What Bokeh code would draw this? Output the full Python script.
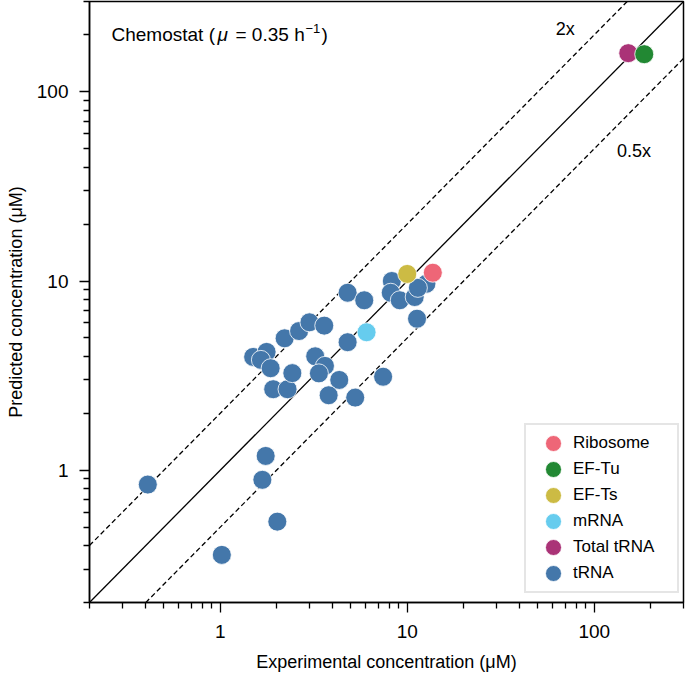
from bokeh.plotting import figure
from bokeh.models import (Range1d, FixedTicker, NumeralTickFormatter, Label,
                          Legend, LegendItem)
from bokeh.embed import file_html
from bokeh.resources import INLINE

# ---------------- data (experimental uM, predicted uM) ----------------
trna_x = [0.41, 1.75, 1.68, 2.02, 1.02, 1.50, 1.77, 1.65, 1.86, 1.92, 2.29,
          2.43, 2.21, 2.64, 3.00, 3.60, 3.22, 3.63, 3.37, 4.33, 3.80, 5.27,
          4.80, 4.80, 5.89, 7.43, 8.27, 8.16, 9.12, 10.96, 12.66, 11.28, 11.4]
trna_y = [0.84, 1.19, 0.89, 0.535, 0.357, 3.97, 4.22, 3.83, 3.46, 2.68, 2.68,
          3.26, 4.98, 5.44, 6.05, 5.81, 4.00, 3.56, 3.25, 3.00, 2.49, 2.42,
          4.75, 8.67, 7.91, 3.12, 10.0, 8.67, 7.91, 8.23, 9.67, 6.32, 9.2]
mrna_x, mrna_y = [6.06], [5.36]
efts_x, efts_y = [10.0], [10.9]
ribo_x, ribo_y = [13.7], [11.06]
total_x, total_y = [152], [160]
eftu_x, eftu_y = [185], [158]

major_ticks = [1, 10, 100]
minor_ticks = [0.2, 0.3, 0.4, 0.5, 0.6, 0.7, 0.8, 0.9,
               2, 3, 4, 5, 6, 7, 8, 9,
               20, 30, 40, 50, 60, 70, 80, 90, 200, 300]
ratios = [1, 2, 0.5]
ratio_x = [0.1, 1000]

FONT = "Liberation Sans"

p = figure(width=685, height=674, x_axis_type="log", y_axis_type="log",
           x_range=Range1d(0.2, 300), y_range=Range1d(0.2, 300),
           output_backend="svg", toolbar_location=None,
           min_border_left=89, min_border_right=2, min_border_top=1,
           min_border_bottom=72)
p.grid.visible = False
p.outline_line_color = "black"
p.outline_line_width = 1.5
p.background_fill_color = "white"
p.border_fill_color = "white"

for ax in (p.xaxis[0], p.yaxis[0]):
    ax.ticker = FixedTicker(ticks=major_ticks, minor_ticks=minor_ticks)
    ax.formatter = NumeralTickFormatter(format="0")
    ax.axis_line_color = "black"
    ax.axis_line_width = 1.5
    ax.major_tick_line_color = "black"
    ax.major_tick_line_width = 1.3
    ax.minor_tick_line_color = "black"
    ax.minor_tick_line_width = 1.3
    ax.major_tick_in = 0
    ax.major_tick_out = 10
    ax.minor_tick_in = 0
    ax.minor_tick_out = 6
    ax.major_label_text_font = FONT
    ax.major_label_text_font_size = "19px"
    ax.major_label_text_color = "black"
    ax.axis_label_text_font = FONT
    ax.axis_label_text_font_size = "18px"
    ax.axis_label_text_font_style = "normal"
    ax.axis_label_text_color = "black"

p.xaxis.axis_label = "Experimental concentration (μM)"
p.yaxis.axis_label = "Predicted concentration (μM)"
p.xaxis.major_label_standoff = 12
p.xaxis.axis_label_standoff = 11
p.yaxis.major_label_standoff = 11
p.yaxis.axis_label_standoff = 8

# reference lines y = r * x
for r in ratios:
    p.line(ratio_x, [r * v for v in ratio_x], line_color="black",
           line_width=1.3, line_dash="solid" if r == 1 else "5 3")

D = 19
STYLE = dict(width=D, height=D, width_units="screen", height_units="screen",
             line_color="white", line_width=0.8)
r_trna = p.ellipse(trna_x, trna_y, fill_color="#4477AA", **STYLE)
r_mrna = p.ellipse(mrna_x, mrna_y, fill_color="#66CCEE", **STYLE)
r_efts = p.ellipse(efts_x, efts_y, fill_color="#CCBB44", **STYLE)
r_ribo = p.ellipse(ribo_x, ribo_y, fill_color="#EE6677", **STYLE)
r_total = p.ellipse(total_x, total_y, fill_color="#AA3377", **STYLE)
r_eftu = p.ellipse(eftu_x, eftu_y, fill_color="#228833", **STYLE)

legend = Legend(items=[
    LegendItem(label="Ribosome", renderers=[r_ribo]),
    LegendItem(label="EF-Tu", renderers=[r_eftu]),
    LegendItem(label="EF-Ts", renderers=[r_efts]),
    LegendItem(label="mRNA", renderers=[r_mrna]),
    LegendItem(label="Total tRNA", renderers=[r_total]),
    LegendItem(label="tRNA", renderers=[r_trna]),
], location=(435, 9))
legend.glyph_width = 38
legend.glyph_height = 20
legend.spacing = 6
legend.padding = 8
legend.margin = 0
legend.label_standoff = 1
legend.label_width = 96
legend.label_height = 20
legend.label_text_font = FONT
legend.label_text_font_size = "17px"
legend.label_text_color = "black"
legend.border_line_color = "#cccccc"
legend.border_line_width = 2
legend.background_fill_color = "white"
legend.background_fill_alpha = 0.9
p.add_layout(legend, "center")

# diagonal annotations
p.add_layout(Label(x=70, y=214, text="2x", text_align="center",
                   text_baseline="middle", text_font=FONT,
                   text_font_size="18px", text_color="black"))
p.add_layout(Label(x=163, y=48.6, text="0.5x", text_align="center",
                   text_baseline="middle", text_font=FONT,
                   text_font_size="18px", text_color="black"))

# title pieces: "Chemostat (" + italic mu + " = 0.35 h" + superscript "−1" + ")"
pieces = [
    (22, 202, "Chemostat (", "normal", "19px"),
    (128, 202, "μ", "italic", "19px"),
    (146, 202, "= 0.35 h", "normal", "19px"),
    (216, 216, "−1", "normal", "13px"),
    (232, 202, ")", "normal", "19px"),
]
for x, y, t, style, fs in pieces:
    p.add_layout(Label(x=x, y=y, x_units="screen", y_units="data", text=t,
                       text_align="left", text_baseline="middle",
                       text_font=FONT, text_font_style=style,
                       text_font_size=fs, text_color="black"))

open("out.html", "w").write(file_html(p, INLINE))
